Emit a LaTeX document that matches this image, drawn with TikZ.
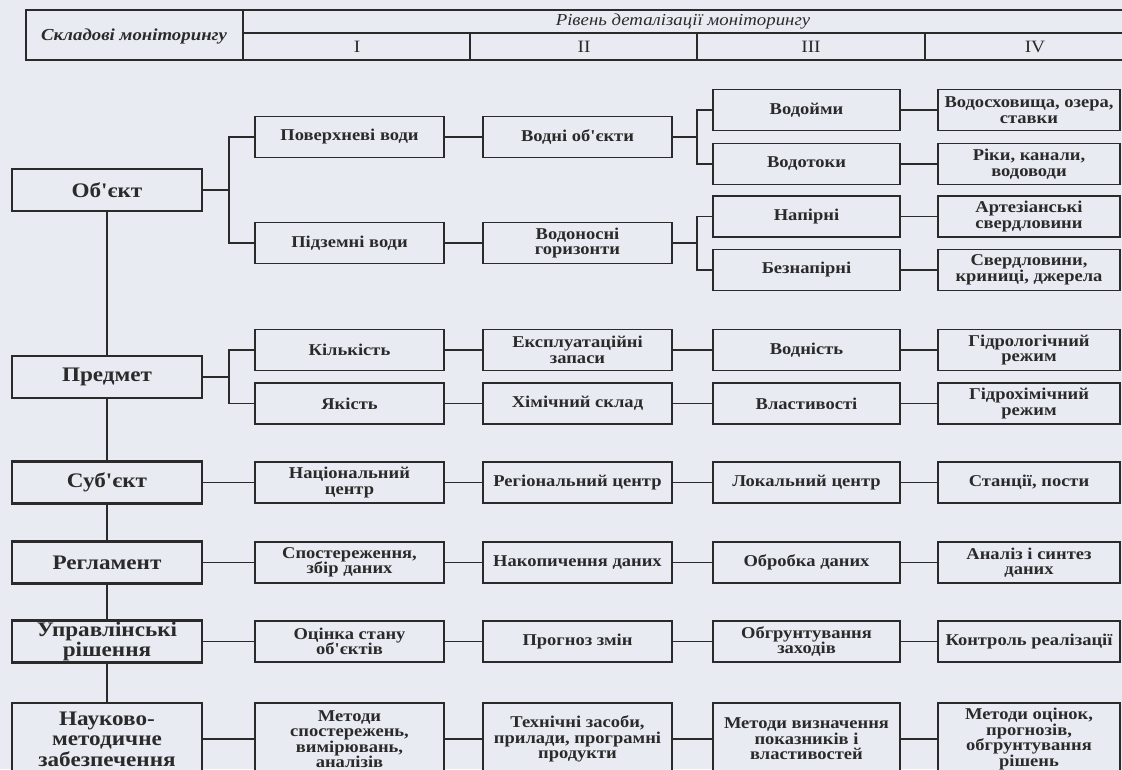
\documentclass[tikz,border=0pt]{standalone}
\usepackage{fontspec}
\setmainfont{Liberation Serif}
\newfontfamily\SerifX{Liberation Serif}[FakeStretch=1.12]
\newcommand\LeftFont{\SerifX\bfseries\fontsize{15.5}{15.5}\selectfont}
\newcommand\CellFont{\SerifX\bfseries\fontsize{12.4}{11.6}\selectfont}
\newcommand\HeadFont{\SerifX\bfseries\itshape\fontsize{12.6}{13}\selectfont}
\newcommand\HeadFontB{\SerifX\itshape\fontsize{12.6}{13}\selectfont}
\newcommand\NumFont{\SerifX\fontsize{13}{13}\selectfont}
\definecolor{bgc}{HTML}{E8ECF2}
\definecolor{inkc}{HTML}{2A2A2A}
\begin{document}
\begin{tikzpicture}[x=0.75pt,y=-0.75pt,
  lbox/.style={draw=inkc, fill=bgc, line width=2.2pt, minimum width=142.5pt, minimum height=31.5pt, inner sep=0pt, align=center, font=\LeftFont, text=inkc},
  cbox/.style={draw=inkc, fill=bgc, line width=1.1pt, minimum height=30.75pt, inner sep=0pt, align=center, font=\CellFont, text=inkc},
  wI/.style={cbox, minimum width=141.75pt},
  wII/.style={cbox, minimum width=141.75pt},
  wIII/.style={cbox, minimum width=140.25pt},
  wIV/.style={cbox, minimum width=136.5pt},
  tall/.style={minimum height=54pt},
  conn/.style={draw=inkc, line width=0.8pt},
  hline/.style={draw=inkc, line width=1.1pt},
  htext/.style={inner sep=0pt, text=inkc}
]
\fill[bgc] (0,0) rectangle (1122,769);
\useasboundingbox (0,0) rectangle (1122,769);
\clip (0,0) rectangle (1122,769);

% header
\draw[hline] (1124,10) -- (26,10) -- (26,60) -- (1124,60);
\draw[hline] (243,10) -- (243,60);
\draw[hline] (243,33) -- (1124,33);
\draw[hline] (470,33) -- (470,60);
\draw[hline] (697,33) -- (697,60);
\draw[hline] (925,33) -- (925,60);
\node[htext, font=\HeadFont] (hsk) at (134,36) {Складові моніторингу};
\node[htext, font=\HeadFontB] (hriv) at (683,21) {Рівень деталізації моніторингу};
\node[htext, font=\NumFont] (h1) at (357,47) {I};
\node[htext, font=\NumFont] (h2) at (584,47) {II};
\node[htext, font=\NumFont] (h3) at (811,47) {III};
\node[htext, font=\NumFont] (h4) at (1035,47) {IV};

% left column
\node[lbox] (obj) at (107,190) {Об'єкт};
\node[lbox] (pred) at (107,377) {Предмет};
\node[lbox] (sub) at (107,482.5) {Суб'єкт};
\node[lbox] (reg) at (107,562.5) {Регламент};
\node[lbox] (upr) at (107,641.5) {Управлінські\\рішення};
\node[lbox, tall] (nauk) at (107,739) {Науково-\\методичне\\забезпечення};

% column I
\node[wI] (pov) at (349.5,137) {Поверхневі води};
\node[wI] (pidz) at (349.5,243) {Підземні води};
\node[wI] (kil) at (349.5,350) {Кількість};
\node[wI] (yak) at (349.5,403.5) {Якість};
\node[wI] (nac) at (349.5,482.5) {Національний\\центр};
\node[wI] (spo) at (349.5,562.5) {Спостереження,\\збір даних};
\node[wI] (ocin) at (349.5,641.5) {Оцінка стану\\об'єктів};
\node[wI, tall] (metI) at (349.5,739) {Методи\\спостережень,\\вимірювань,\\аналізів};

% column II
\node[wII] (vodob) at (577.5,137) {Водні об'єкти};
\node[wII] (vodon) at (577.5,243) {Водоносні\\горизонти};
\node[wII] (eksp) at (577.5,350) {Експлуатаційні\\запаси};
\node[wII] (him) at (577.5,403.5) {Хімічний склад};
\node[wII] (regc) at (577.5,482.5) {Регіональний центр};
\node[wII] (nak) at (577.5,562.5) {Накопичення даних};
\node[wII] (prog) at (577.5,641.5) {Прогноз змін};
\node[wII, tall] (teh) at (577.5,739) {Технічні засоби,\\прилади, програмні\\продукти};

% column III
\node[wIII] (vodoy) at (806.5,110) {Водойми};
\node[wIII] (vodot) at (806.5,164) {Водотоки};
\node[wIII] (nap) at (806.5,216.5) {Напірні};
\node[wIII] (beznap) at (806.5,270) {Безнапірні};
\node[wIII] (vodn) at (806.5,350) {Водність};
\node[wIII] (vlas) at (806.5,403.5) {Властивості};
\node[wIII] (lok) at (806.5,482.5) {Локальний центр};
\node[wIII] (obr) at (806.5,562.5) {Обробка даних};
\node[wIII] (obg) at (806.5,641.5) {Обгрунтування\\заходів};
\node[wIII, tall] (metIII) at (806.5,739) {Методи визначення\\показників і\\властивостей};

% column IV
\node[wIV] (vsh) at (1029,110) {Водосховища, озера,\\ставки};
\node[wIV] (riky) at (1029,164) {Ріки, канали,\\водоводи};
\node[wIV] (art) at (1029,216.5) {Артезіанські\\свердловини};
\node[wIV] (sverd) at (1029,270) {Свердловини,\\криниці, джерела};
\node[wIV] (gidrol) at (1029,350) {Гідрологічний\\режим};
\node[wIV] (gidroh) at (1029,403.5) {Гідрохімічний\\режим};
\node[wIV] (stan) at (1029,482.5) {Станції, пости};
\node[wIV] (anal) at (1029,562.5) {Аналіз і синтез\\даних};
\node[wIV] (kontr) at (1029,641.5) {Контроль реалізації};
\node[wIV, tall] (metIV) at (1029,739) {Методи оцінок,\\прогнозів,\\обгрунтування\\рішень};

% left vertical spine
\draw[conn] (obj.south) -- (pred.north);
\draw[conn] (pred.south) -- (sub.north);
\draw[conn] (sub.south) -- (reg.north);
\draw[conn] (reg.south) -- (upr.north);
\draw[conn] (upr.south) -- (nauk.north);

% forks
\coordinate (fA) at (229,190);
\draw[conn] (obj.east) -- (fA);
\draw[conn] (pov.west) -| (fA) |- (pidz.west);
\coordinate (fB) at (229,377);
\draw[conn] (pred.east) -- (fB);
\draw[conn] (kil.west) -| (fB) |- (yak.west);
\coordinate (fC) at (697,137);
\draw[conn] (vodob.east) -- (fC);
\draw[conn] (vodoy.west) -| (fC) |- (vodot.west);
\coordinate (fD) at (697,243);
\draw[conn] (vodon.east) -- (fD);
\draw[conn] (nap.west) -| (fD) |- (beznap.west);

% straight connectors
\draw[conn] (pov) -- (vodob);
\draw[conn] (pidz) -- (vodon);
\draw[conn] (vodoy) -- (vsh);
\draw[conn] (vodot) -- (riky);
\draw[conn] (nap) -- (art);
\draw[conn] (beznap) -- (sverd);
\foreach \a/\b in {kil/eksp,eksp/vodn,vodn/gidrol,yak/him,him/vlas,vlas/gidroh,
  sub/nac,nac/regc,regc/lok,lok/stan,reg/spo,spo/nak,nak/obr,obr/anal,
  upr/ocin,ocin/prog,prog/obg,obg/kontr,nauk/metI,metI/teh,teh/metIII,metIII/metIV}
  \draw[conn] (\a) -- (\b);
\end{tikzpicture}
\end{document}
